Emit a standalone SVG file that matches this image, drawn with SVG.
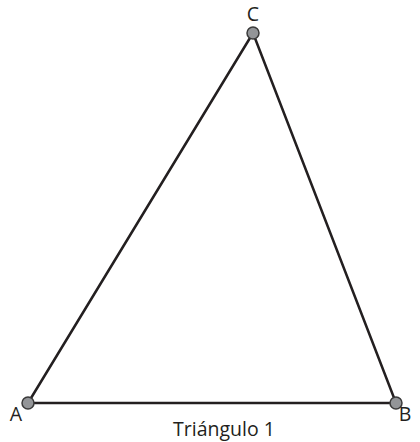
<svg xmlns="http://www.w3.org/2000/svg" width="420" height="442" viewBox="0 0 420 442">
<style>
.edge{stroke:#231f20;stroke-width:2.5;fill:none;stroke-linecap:round}
.pt{fill:#939598;stroke:#3a3a3a;stroke-width:1.5}
.lbl{font-family:"Open Sans","Liberation Sans",sans-serif;font-size:19.5px;fill:#231f20}
</style>
<rect width="420" height="442" fill="#ffffff"/>
<g id="connectors">
<line class="edge" x1="28" y1="403" x2="396" y2="403"/>
<line class="edge" x1="28" y1="403" x2="253" y2="33"/>
<line class="edge" x1="253" y1="33" x2="396" y2="403"/>
</g>
<g id="A"><circle class="pt" cx="28" cy="403" r="6"/><text class="lbl" x="16" y="421" text-anchor="middle">A</text></g>
<g id="B"><circle class="pt" cx="396" cy="403" r="6"/><text class="lbl" x="405" y="421" text-anchor="middle">B</text></g>
<g id="C"><circle class="pt" cx="253" cy="33" r="6"/><text class="lbl" x="253" y="21" text-anchor="middle">C</text></g>
<text class="lbl" x="224" y="436" text-anchor="middle">Triángulo 1</text>
</svg>
